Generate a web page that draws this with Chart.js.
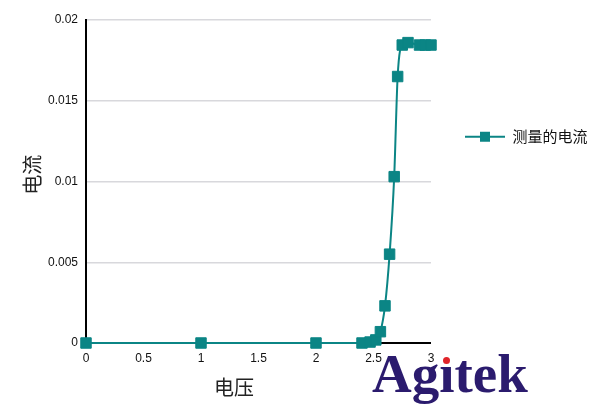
<!DOCTYPE html>
<html>
<head>
<meta charset="utf-8">
<script src="https://cdn.jsdelivr.net/npm/chart.js@4/dist/chart.umd.min.js"></script>
<style>
    html, body { margin: 0; padding: 0; background: #fff; }
    #wrap { position: relative; width: 602px; height: 405px; }
    #chart { display: block; }
    .logo {
        position: absolute; left: 372px; top: 346px;
        font-family: "Liberation Serif", serif; font-weight: bold;
        font-size: 55px; line-height: 1; color: #2b1b6e;
        white-space: nowrap;
    }
    .logo .dotless { position: relative; }
    .logo .dotless::after {
        content: ""; position: absolute; left: 50%; top: 14px;
        width: 7px; height: 7px; margin-left: -3.5px;
        border-radius: 50%; background: #e0242a;
    }
</style>
</head>
<body>
<div id="wrap">
    <canvas id="chart" width="602" height="405"></canvas>
    <div class="logo">Ag<span class="dotless">ı</span>tek</div>
</div>
<script>
    // 测量数据
    const voltage = [0, 1, 2, 2.4, 2.47, 2.52, 2.56, 2.6, 2.64, 2.68, 2.71, 2.75, 2.8, 2.9, 2.95, 3.0];
    const current = [0, 0, 0, 0, 0.00006, 0.00019, 0.0007, 0.0023, 0.0055, 0.0103, 0.0165, 0.01845, 0.0186, 0.01845, 0.01845, 0.01845];
    const seriesName = '测量的电流';
    const xTitle = '电压';
    const yTitle = '电流';

    const teal = '#0b8585';
    const cjk = '"Noto Sans CJK SC", "Noto Sans", sans-serif';
    const latin = '"Liberation Sans", Arial, sans-serif';

    // legend symbol: line with square marker
    const legendIcon = document.createElement('canvas');
    legendIcon.width = 40;
    legendIcon.height = 12;
    const ictx = legendIcon.getContext('2d');
    ictx.strokeStyle = teal;
    ictx.lineWidth = 2;
    ictx.beginPath();
    ictx.moveTo(0, 6);
    ictx.lineTo(40, 6);
    ictx.stroke();
    ictx.fillStyle = teal;
    ictx.fillRect(15, 1, 10, 10);

    const fmt = (v) => String(parseFloat(Number(v).toFixed(3)));

    new Chart(document.getElementById('chart'), {
        type: 'line',
        data: {
            datasets: [{
                label: seriesName,
                data: voltage.map((v, i) => ({x: v, y: current[i]})),
                borderColor: teal,
                backgroundColor: teal,
                borderWidth: 2,
                pointStyle: 'rect',
                pointRadius: 7.4,
                pointBorderWidth: 1,
                pointBackgroundColor: teal,
                pointBorderColor: teal,
                cubicInterpolationMode: 'monotone',
                clip: false,
            }],
        },
        options: {
            responsive: false,
            animation: false,
            devicePixelRatio: 1,
            layout: {padding: {left: 0, top: 20, right: 4.5, bottom: 0}},
            plugins: {
                tooltip: {enabled: false},
                legend: {
                    position: 'right',
                    align: 'start',
                    fullSize: false,
                    maxWidth: 220,
                    title: {display: true, text: ' ', font: {size: 12, lineHeight: 1.2}, padding: {top: 60.8, bottom: 0}},
                    labels: {
                        usePointStyle: true,
                        pointStyle: legendIcon,
                        pointStyleWidth: 40,
                        padding: 34,
                        color: '#111',
                        font: {family: cjk, size: 15},
                    },
                },
            },
            scales: {
                x: {
                    type: 'linear',
                    min: 0,
                    max: 3,
                    afterFit: (s) => { s.height = 62; },
                    grid: {display: false, drawTicks: false},
                    border: {display: true, color: '#000', width: 2},
                    ticks: {stepSize: 0.5, padding: 8, color: '#111', font: {family: latin, size: 12}, callback: fmt, maxRotation: 0},
                    title: {
                        display: true,
                        text: xTitle + '\u3000\u3000  ',
                        color: '#222',
                        font: {family: cjk, size: 20, lineHeight: 1.2},
                        padding: {top: 0, bottom: 5.5},
                    },
                },
                y: {
                    min: 0,
                    max: 0.02,
                    afterFit: (s) => { s.width = 86; },
                    grid: {color: '#d8d8dc', lineWidth: 1.5, drawTicks: false},
                    border: {display: true, color: '#000', width: 2},
                    ticks: {stepSize: 0.005, padding: 8, color: '#111', font: {family: latin, size: 12}, callback: fmt},
                    title: {
                        display: true,
                        text: '   ' + yTitle,
                        color: '#222',
                        font: {family: cjk, size: 20, lineHeight: 1.2},
                        padding: {top: 20, bottom: 0},
                    },
                },
            },
        },
    });
</script>
</body>
</html>
